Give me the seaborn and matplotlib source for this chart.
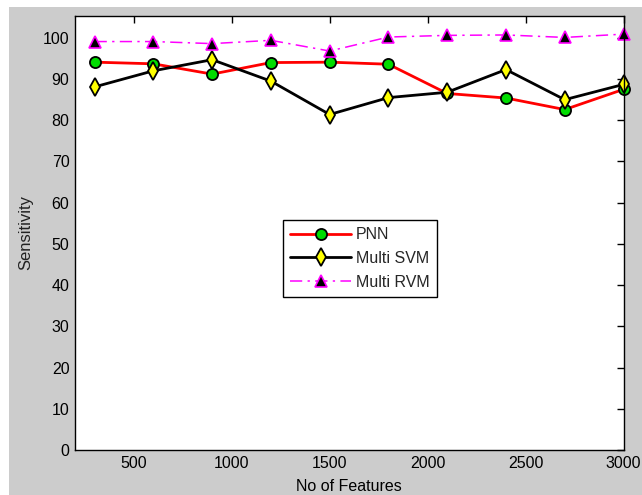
import matplotlib
matplotlib.use("Agg")
import matplotlib.pyplot as plt
import seaborn as sns
import pandas as pd
from matplotlib.patches import Rectangle

features = [300, 600, 900, 1200, 1500, 1800, 2100, 2400, 2700, 3000]
pnn = [94.1, 93.7, 91.2, 94.0, 94.1, 93.6, 86.5, 85.4, 82.6, 87.5]
svm = [88.1, 92.0, 94.7, 89.5, 81.4, 85.5, 86.8, 92.3, 85.0, 88.7]
rvm = [99.1, 99.1, 98.6, 99.4, 96.8, 100.2, 100.6, 100.7, 100.1, 100.9]
xticks = [500, 1000, 1500, 2000, 2500, 3000]
yticks = [0, 10, 20, 30, 40, 50, 60, 70, 80, 90, 100]

sns.set_theme(style="white")
plt.rcParams['font.family'] = ['Liberation Sans', 'DejaVu Sans']

fig = plt.figure(figsize=(6.42, 4.95), dpi=100)
fig.patch.set_facecolor('white')
fig.patches.append(Rectangle((9/642, 0), 1 - 9/642, (495 - 7)/495,
                             transform=fig.transFigure, facecolor='#cccccc',
                             edgecolor='none', zorder=-10))
ax = fig.add_axes([75/642, 45/495, (623.5 - 75)/642, (450 - 16)/495])
ax.set_facecolor('white')

sns.lineplot(x=features, y=pnn, ax=ax, color='#ff0000', lw=2, marker='o',
             markerfacecolor='#00dd00', markeredgecolor='black', markeredgewidth=1.3,
             markersize=8, label='PNN', clip_on=False)
sns.lineplot(x=features, y=svm, ax=ax, color='black', lw=2, marker='d',
             markerfacecolor='#ffff00', markeredgecolor='black', markeredgewidth=1.3,
             markersize=9, label='Multi SVM', clip_on=False)
sns.lineplot(x=features, y=rvm, ax=ax, color='#ff00ff', lw=1.1,
             dashes=False, marker='^',
             markerfacecolor='black', markeredgecolor='#ff00ff', markeredgewidth=1.2,
             markersize=8, label='Multi RVM', clip_on=False)
ax.lines[-1].set_linestyle((0, (8, 3.5, 1.5, 3.5)))

ax.set_xlim(200, 3000)
ax.set_ylim(0, 105.3)
ax.set_xticks(xticks)
ax.set_yticks(yticks)
ax.tick_params(axis='both', direction='in', length=5, width=1, colors='black',
               labelsize=11.5, top=True, right=True, pad=4)
for s in ax.spines.values():
    s.set_color('black')
    s.set_linewidth(1)
ax.set_xlabel('No of Features', fontsize=11.5, labelpad=6, color='black')
ax.set_ylabel('Sensitivity', fontsize=12, labelpad=7, color='#222222')

leg = ax.legend(loc='upper left', bbox_to_anchor=(283/642, (495 - 220)/495),
                bbox_transform=fig.transFigure, fontsize=11.5, frameon=True,
                fancybox=False, edgecolor='black', framealpha=1, handlelength=3.8,
                borderpad=0.45, labelspacing=0.55, handletextpad=0.3,
                borderaxespad=0)
leg.get_frame().set_linewidth(1)
for h in leg.legend_handles:
    if hasattr(h, 'set_linestyle') and h.get_color() == '#ff00ff':
        h.set_linestyle((0, (8, 3.5, 1.5, 3.5)))

fig.savefig('out.png', dpi=100, facecolor=fig.get_facecolor())
